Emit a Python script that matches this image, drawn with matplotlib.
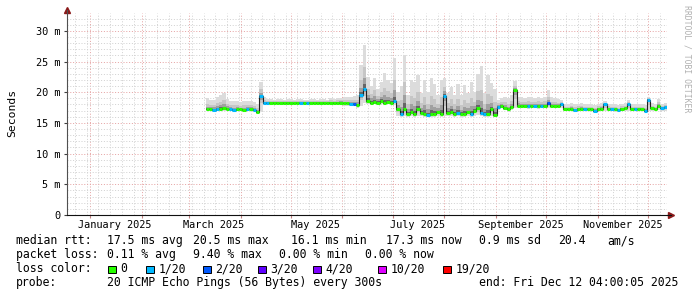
import matplotlib
matplotlib.use("Agg")
import numpy as np
import pandas as pd
import matplotlib.pyplot as plt
import matplotlib.dates as mdates
from matplotlib.patches import Rectangle
from matplotlib.ticker import MultipleLocator, FuncFormatter

# median rtt (ms) per 2-day bin, starting 2025-03-11
median = [
    17.2, 17.2, 17.1, 17.2, 17.3, 17.4, 17.3, 17.2, 17.1, 17.2,
    17.2, 17.1, 17.2, 17.2, 17.1, 16.8, 19.4, 18.2, 18.3, 18.3,
    18.3, 18.3, 18.2, 18.3, 18.3, 18.3, 18.2, 18.3, 18.3, 18.3,
    18.2, 18.3, 18.3, 18.3, 18.3, 18.3, 18.2, 18.3, 18.3, 18.3,
    18.3, 18.2, 18.2, 18.1, 18.1, 17.9, 19.5, 20.6, 18.6, 18.3,
    18.4, 18.3, 18.5, 18.3, 18.4, 18.3, 18.6, 17.2, 16.4, 17.3,
    16.5, 16.7, 16.4, 17.2, 16.6, 16.5, 16.3, 16.5, 16.4, 16.7,
    16.5, 19.4, 16.6, 16.8, 16.5, 16.6, 16.4, 16.5, 16.7, 16.5,
    16.9, 17.4, 16.6, 16.4, 16.5, 17.2, 16.3, 17.6, 17.8, 17.5,
    17.2, 17.6, 20.3, 17.8, 17.7, 17.7, 17.7, 17.7, 17.7, 17.7,
    17.7, 17.8, 18.2, 17.7, 17.7, 17.7, 18.0, 17.3, 17.2, 17.3,
    17.1, 17.3, 17.3, 17.3, 17.2, 17.3, 17.0, 17.3, 17.3, 18.0,
    17.3, 17.3, 17.2, 17.1, 17.3, 17.4, 18.0, 17.3, 17.3, 17.2,
    17.3, 17.0, 18.8, 17.4, 17.3, 17.8, 17.4, 17.6, 17.3]

# packet loss bucket per bin (index into loss_colors)
loss = [
    0, 0, 1, 1, 0, 0, 0, 1, 1, 0,
    0, 0, 1, 0, 1, 0, 1, 1, 1, 0,
    0, 0, 0, 0, 0, 0, 0, 0, 1, 0,
    1, 0, 0, 0, 0, 0, 0, 0, 0, 0,
    0, 0, 0, 1, 2, 0, 1, 1, 0, 0,
    0, 0, 0, 0, 0, 0, 1, 0, 1, 0,
    0, 0, 0, 0, 0, 0, 1, 0, 0, 0,
    0, 1, 0, 0, 0, 1, 0, 0, 0, 1,
    0, 0, 1, 1, 0, 0, 0, 1, 0, 0,
    0, 0, 0, 0, 0, 0, 1, 0, 1, 0,
    1, 0, 2, 0, 0, 0, 1, 0, 0, 0,
    1, 0, 0, 1, 0, 0, 1, 0, 0, 1,
    0, 1, 0, 1, 0, 0, 1, 0, 1, 0,
    0, 1, 1, 0, 0, 0, 1, 1, 0]

# slowest ping per bin (top of smoke)
smoke_hi = [
    19.0, 18.7, 18.8, 19.3, 19.5, 19.9, 18.9, 18.5, 18.6, 18.5,
    18.4, 18.6, 18.5, 18.6, 18.4, 18.0, 21.6, 19.2, 18.9, 18.9,
    18.8, 18.9, 18.9, 18.8, 18.9, 18.9, 18.8, 18.9, 18.9, 18.8,
    18.8, 18.9, 18.9, 18.8, 18.9, 18.9, 18.8, 19.0, 18.9, 19.0,
    19.1, 19.2, 19.3, 19.3, 19.4, 19.6, 24.5, 27.7, 22.5, 21.0,
    22.3, 20.5, 21.7, 23.1, 22.0, 21.5, 25.5, 20.0, 21.0, 26.0,
    19.5, 22.0, 21.7, 22.8, 19.8, 22.0, 20.0, 22.3, 21.3, 19.5,
    22.0, 22.3, 19.8, 20.9, 19.6, 21.3, 19.5, 21.1, 19.8, 21.7,
    20.0, 23.0, 24.2, 19.8, 22.8, 21.5, 20.5, 18.8, 19.0, 19.2,
    19.0, 19.5, 21.8, 19.3, 19.2, 19.1, 19.3, 19.2, 19.0, 19.3,
    19.1, 19.2, 20.3, 19.2, 19.0, 18.9, 18.8, 18.0, 18.1, 18.2,
    18.0, 18.1, 18.2, 18.0, 18.1, 18.0, 17.9, 18.1, 18.2, 18.6,
    18.1, 18.0, 18.0, 17.9, 18.1, 18.2, 18.7, 18.0, 18.0, 18.0,
    18.0, 17.9, 19.2, 18.2, 18.0, 18.9, 18.1, 18.2, 18.0]

# fastest ping per bin (bottom of smoke)
smoke_lo = [
    16.9, 16.9, 16.8, 16.9, 17.0, 17.0, 17.0, 16.9, 16.8, 16.9,
    16.9, 16.8, 16.9, 16.9, 16.8, 16.4, 17.0, 17.9, 18.0, 18.0,
    18.0, 18.0, 17.9, 18.0, 18.0, 18.0, 17.9, 18.0, 18.0, 18.0,
    17.9, 18.0, 18.0, 18.0, 17.9, 18.0, 18.0, 18.0, 17.9, 17.9,
    17.9, 17.8, 17.8, 17.7, 17.7, 17.5, 17.8, 18.2, 18.0, 17.9,
    18.0, 17.9, 18.0, 17.9, 18.0, 17.9, 17.9, 16.2, 16.0, 16.2,
    16.0, 16.1, 16.0, 16.2, 16.1, 16.0, 15.9, 16.0, 16.0, 16.1,
    16.0, 16.2, 16.1, 16.2, 16.0, 16.1, 16.0, 16.0, 16.1, 16.0,
    16.2, 16.3, 16.1, 16.0, 16.0, 16.2, 15.9, 17.1, 17.4, 17.1,
    16.8, 17.1, 17.5, 17.4, 17.4, 17.4, 17.3, 17.4, 17.4, 17.3,
    17.4, 17.4, 17.4, 17.4, 17.4, 17.4, 17.5, 17.0, 16.9, 17.0,
    16.8, 17.0, 17.0, 16.9, 16.9, 17.0, 16.7, 17.0, 17.0, 17.0,
    17.0, 16.9, 16.8, 16.8, 17.0, 17.0, 17.0, 17.0, 16.9, 16.9,
    17.0, 16.7, 17.0, 17.0, 17.0, 17.1, 17.0, 17.0, 17.0]

loss_colors = ["#26ff00", "#00b8ff", "#0059ff", "#5e00ff", "#7e00ff", "#dd00ff", "#ff0000"]
loss_labels = ["0", "1/20", "2/20", "3/20", "4/20", "10/20", "19/20"]

month_labels = ["January 2025", "March 2025", "May 2025", "July 2025",
                "September 2025", "November 2025"]
month_label_dates = ["2025-01-16", "2025-03-16", "2025-05-16", "2025-07-16",
                     "2025-09-16", "2025-11-16"]

stats_rtt = ["median rtt:", "17.5 ms avg", "20.5 ms max", "16.1 ms min",
             "17.3 ms now", "0.9 ms sd", "20.4", "am/s"]
stats_loss = ["packet loss:", "0.11 % avg", "9.40 % max", "0.00 % min", "0.00 % now"]
probe_text = ["probe:", "20 ICMP Echo Pings (56 Bytes) every 300s",
              "end: Fri Dec 12 04:00:05 2025"]

W, H = 697, 297
MONO = "DejaVu Sans Mono"
plt.rcParams["font.family"] = MONO

fig = plt.figure(figsize=(W / 100, H / 100), dpi=100)
ax = fig.add_axes([67 / W, (H - 215) / H, 600 / W, 202 / H])

dates = pd.date_range("2025-03-11 04:00", periods=len(median), freq="2D")
edges = mdates.date2num(dates)
edges = np.append(edges, edges[-1] + 2)
left = edges[:-1]
med = np.array(median)
hi = np.array(smoke_hi)
lo = np.array(smoke_lo)

# smoke: light outer band, darker towards the median
shades = [(1.0, "#dcdcdc"), (0.5, "#c6c6c6"), (0.25, "#a0a0a0"), (0.1, "#666666")]
for frac, col in shades:
    bot = med - frac * (med - lo)
    top = med + frac * (hi - med)
    ax.bar(left, top - bot, bottom=bot, width=2, align="edge", color=col,
           linewidth=0, zorder=2)

ax.stairs(med, edges, color="#202020", linewidth=0.8, baseline=None, zorder=3)
ax.hlines(med, edges[:-1], edges[1:], colors=[loss_colors[l] for l in loss],
          linewidth=2.2, zorder=4)

ax.set_xlim(mdates.date2num(pd.Timestamp("2024-12-18 04:00")),
            mdates.date2num(pd.Timestamp("2025-12-12 04:00")))
ax.set_ylim(0, 32.9)

ax.xaxis.set_major_locator(mdates.MonthLocator())
ax.xaxis.set_minor_locator(mdates.WeekdayLocator(byweekday=mdates.MO))
ax.xaxis.set_major_formatter(FuncFormatter(lambda v, p: ""))
ax.yaxis.set_major_locator(MultipleLocator(5))
ax.yaxis.set_minor_locator(MultipleLocator(1))
ax.yaxis.set_major_formatter(FuncFormatter(lambda v, p: "0" if v == 0 else f"{v:.0f} m"))

ax.grid(which="minor", color="#d2d2d2", linestyle=(0, (1, 1.8)), linewidth=0.72)
ax.grid(which="major", color="#e6a4a4", linestyle=(0, (1, 1.8)), linewidth=0.72)
ax.set_axisbelow(True)

ax.tick_params(axis="y", which="major", length=2, pad=3, labelsize=7.4, color="#404040")
ax.tick_params(axis="y", which="minor", length=0)
ax.tick_params(axis="x", which="major", length=2, color="#c08080")
ax.tick_params(axis="x", which="minor", length=0)

for s in ["top", "right"]:
    ax.spines[s].set_visible(False)
ax.spines["left"].set_color("#505050")
ax.spines["bottom"].set_color("#101010")
ax.spines["left"].set_linewidth(0.8)
ax.spines["bottom"].set_linewidth(0.8)

# axis arrows
ax.plot([0], [(215 - 10) / 202], marker="^", markersize=4.5, color="#8b1a1a",
        transform=ax.transAxes, clip_on=False)
ax.plot([0, 0], [1, (215 - 10) / 202], color="#505050", lw=0.8,
        transform=ax.transAxes, clip_on=False)
ax.plot([604 / 600], [0], marker=">", markersize=4.5, color="#8b1a1a",
        transform=ax.transAxes, clip_on=False)
ax.plot([1, 604 / 600], [0, 0], color="#101010", lw=0.8,
        transform=ax.transAxes, clip_on=False)

for lab, d in zip(month_labels, month_label_dates):
    ax.text(mdates.date2num(pd.Timestamp(d)), -10 / 202, lab, transform=ax.get_xaxis_transform(),
            ha="center", va="center", fontsize=7.4)

fig.text(12 / W, 1 - 113 / H, "Seconds", rotation=90, ha="center", va="center", fontsize=8.2)
fig.text(686.5 / W, 1 - 59 / H, "RRDTOOL / TOBI OETIKER", rotation=270, ha="center",
         va="center", fontsize=5.9, color="#b0b0b0")

# legend / statistics block
def put(x, y, s):
    fig.text(x / W, 1 - y / H, s, ha="left", va="baseline", fontsize=8.3)

for x, s in zip([16, 107, 193, 291, 386, 479, 558, 607], stats_rtt):
    put(x, 244.3, s)
for x, s in zip([16, 107, 193, 279, 365], stats_loss):
    put(x, 258.3, s)
put(16, 272.3, "loss color:")
for x, col, lab in zip([108, 146, 203, 258, 313, 378, 443], loss_colors, loss_labels):
    fig.patches.append(Rectangle((x / W, 1 - 273 / H), 8 / W, 7.5 / H, transform=fig.transFigure,
                                 facecolor=col, edgecolor="black", linewidth=0.7))
    put(x + 12.5, 272.3, lab)
for x, s in zip([16, 107, 479], probe_text):
    put(x, 286.3, s)

fig.savefig("out.png", dpi=100)
